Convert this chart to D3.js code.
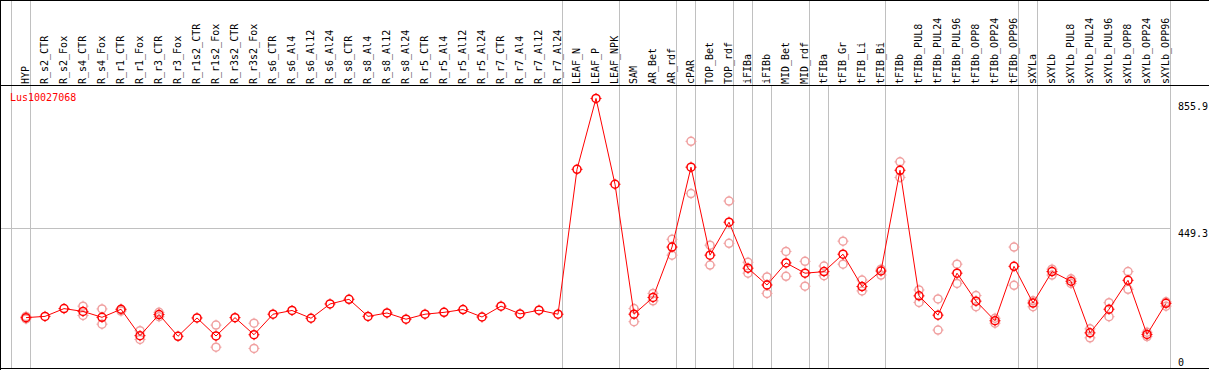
<!DOCTYPE html>
<html>
<head>
<meta charset="utf-8">
<script src="https://cdn.jsdelivr.net/npm/d3@7"></script>
<style>
  body { margin: 0; background: #fff; }
  svg { display: block; }
</style>
</head>
<body>
<div id="chart"></div>
<script>
// Expression profile for one gene across tissues / treatments
const geneId = "Lus10027068";

const samples = [
  "HYP", "R_s2_CTR", "R_s2_Fox", "R_s4_CTR", "R_s4_Fox", "R_r1_CTR", "R_r1_Fox",
  "R_r3_CTR", "R_r3_Fox", "R_r1s2_CTR", "R_r1s2_Fox", "R_r3s2_CTR", "R_r3s2_Fox",
  "R_s6_CTR", "R_s6_Al4", "R_s6_Al12", "R_s6_Al24", "R_s8_CTR", "R_s8_Al4",
  "R_s8_Al12", "R_s8_Al24", "R_r5_CTR", "R_r5_Al4", "R_r5_Al12", "R_r5_Al24",
  "R_r7_CTR", "R_r7_Al4", "R_r7_Al12", "R_r7_Al24", "LEAF_N", "LEAF_P", "LEAF_NPK",
  "SAM", "AR_Bet", "AR_rdf", "cPAR", "TOP_Bet", "TOP_rdf", "iFIBa", "iFIBb",
  "MID_Bet", "MID_rdf", "tFIBa", "tFIB_Gr", "tFIB_Li", "tFIB_Bi", "tFIBb",
  "tFIBb_PUL8", "tFIBb_PUL24", "tFIBb_PUL96", "tFIBb_OPP8", "tFIBb_OPP24", "tFIBb_OPP96",
  "sXYLa", "sXYLb", "sXYLb_PUL8", "sXYLb_PUL24", "sXYLb_PUL96", "sXYLb_OPP8",
  "sXYLb_OPP24", "sXYLb_OPP96"
];

// Mean expression per sample
const meanValues = [
  162, 166, 191, 182, 163, 189, 104, 172, 102, 161, 103, 162, 107,
  173, 185, 160, 206, 221, 166, 177, 157, 173, 179, 188, 164,
  199, 174, 186, 173, 639, 867, 591,
  173, 227, 389, 646, 363, 469, 321, 267,
  338, 305, 310, 366, 262, 312, 636,
  232, 170, 305, 215, 152, 327,
  209, 310, 279, 113, 189, 282, 108, 208
];

// Replicate values (null where no separate replicate is shown)
const replicateA = [
  166, null, null, 199, 190, 187, 120, 179, null, null, 138, null, 144,
  null, null, null, null, null, null, null, null, null, null, null, null,
  null, null, null, null, null, null, null,
  191, 240, 414, 729, 395, 537, 340, 293,
  375, 343, 328, 408, 283, 318, 663,
  251, 222, 334, 233, 160, 389,
  216, 318, 287, 126, 210, 310, 115, 213
];
const replicateB = [
  158, null, null, 169, 141, 183, 92, 165, null, null, 67, null, 63,
  null, null, null, null, null, null, null, null, null, null, null, null,
  null, null, null, null, null, null, null,
  149, 216, 363, 561, 331, 401, 305, 240,
  295, 263, 297, 334, 248, 299, 613,
  211, 122, 272, 197, 144, 266,
  197, 299, 272, 97, 165, 253, 101, 199
];

// Group separators are drawn after these sample indices
const separatorAfter = [-1, 0, 28, 31, 34, 35, 37, 38, 41, 45, 52, 53, 60];
// these ones only run through the plot area, not the label header
const subSeparatorAfter = [39, 42];

const yTickValues = [0, 449.3, 855.9];
const gridValue = 449.3;

const width = 1209, height = 370;
const headerBottom = 85, plotBottom = 368;

const svg = d3.select("#chart").append("svg")
  .attr("width", width)
  .attr("height", height)
  .style("font-family", "'DejaVu Sans Mono', monospace")
  .style("font-size", "10px");

svg.append("rect")
  .attr("width", width)
  .attr("height", height)
  .attr("fill", "#fff");

// Scales
const x = d3.scalePoint()
  .domain(samples)
  .range([26, 1166]);
const step = x.step();

const y = d3.scaleLinear()
  .domain([0, 855.9])
  .range([plotBottom, 101.9]);

// Vertical group separators
const sepX = i => Math.round(26 + step * i + 4) + 0.5;
const seps = svg.append("g")
  .attr("class", "separators")
  .attr("stroke", "#c0c0c0")
  .attr("stroke-width", 1);

seps.selectAll("line.full")
  .data(separatorAfter)
  .join("line")
  .attr("class", "full")
  .attr("x1", d => sepX(d))
  .attr("x2", d => sepX(d))
  .attr("y1", 0)
  .attr("y2", plotBottom);

seps.selectAll("line.sub")
  .data(subSeparatorAfter)
  .join("line")
  .attr("class", "sub")
  .attr("x1", d => sepX(d))
  .attr("x2", d => sepX(d))
  .attr("y1", headerBottom)
  .attr("y2", plotBottom);

// Horizontal grid line
svg.append("line")
  .attr("x1", 0)
  .attr("x2", sepX(samples.length - 1))
  .attr("y1", Math.round(y(gridValue)) + 0.5)
  .attr("y2", Math.round(y(gridValue)) + 0.5)
  .attr("stroke", "#c0c0c0")
  .attr("stroke-width", 1);

// Frame lines
const frame = svg.append("g").attr("stroke", "#000").attr("stroke-width", 1);
frame.append("line").attr("x1", 0).attr("x2", width).attr("y1", 0.5).attr("y2", 0.5);
frame.append("line").attr("x1", 0.5).attr("x2", 0.5).attr("y1", 0).attr("y2", height);
frame.append("line").attr("x1", 0).attr("x2", width).attr("y1", headerBottom + 0.5).attr("y2", headerBottom + 0.5);
frame.append("line").attr("x1", 0).attr("x2", width).attr("y1", plotBottom + 0.5).attr("y2", plotBottom + 0.5);

// Rotated sample labels
svg.append("g")
  .attr("class", "sample-labels")
  .selectAll("text")
  .data(samples)
  .join("text")
  .attr("transform", d => `translate(${x(d) + 3},${headerBottom - 1}) rotate(-90)`)
  .attr("text-anchor", "start")
  .attr("fill", "#000")
  .text(d => d);

// Y value labels on the right
svg.append("g")
  .attr("class", "y-labels")
  .selectAll("text")
  .data(yTickValues)
  .join("text")
  .attr("x", 1178)
  .attr("y", d => Math.min(y(d) + 8.5, plotBottom - 2))
  .attr("fill", "#000")
  .text(d => d === 0 ? "0" : d.toFixed(1));

// Gene name
svg.append("text")
  .attr("x", 10)
  .attr("y", 101)
  .attr("fill", "#ff0000")
  .text(geneId);

// small marker: open circle with four short ticks
function drawMarkers(g, data, cx, cy, color) {
  const m = g.selectAll("g")
    .data(data)
    .join("g")
    .attr("transform", d => `translate(${cx(d)},${cy(d)})`)
    .attr("stroke", color)
    .attr("fill", "none");
  m.append("circle")
    .attr("r", 4)
    .attr("stroke-width", 1.5);
  m.append("path")
    .attr("stroke-width", 1)
    .attr("d", "M0,-4V-5.5M0,4V5.5M-4,0H-5.5M4,0H5.5");
}

// Replicate points
const reps = [];
samples.forEach((s, i) => {
  if (replicateA[i] != null) reps.push({ s, v: replicateA[i] });
  if (replicateB[i] != null) reps.push({ s, v: replicateB[i] });
});

drawMarkers(svg.append("g").attr("class", "replicates"),
  reps, d => x(d.s), d => y(d.v), "#f0a0a0");

// Mean line
const line = d3.line()
  .x((d, i) => x(samples[i]))
  .y(d => y(d));

svg.append("path")
  .datum(meanValues)
  .attr("fill", "none")
  .attr("stroke", "#ff0000")
  .attr("stroke-width", 1)
  .attr("d", line);

// Mean points
const meanPts = meanValues.map((v, i) => ({ s: samples[i], v }));
drawMarkers(svg.append("g").attr("class", "means"),
  meanPts, d => x(d.s), d => y(d.v), "#ff0000");
</script>
</body>
</html>
